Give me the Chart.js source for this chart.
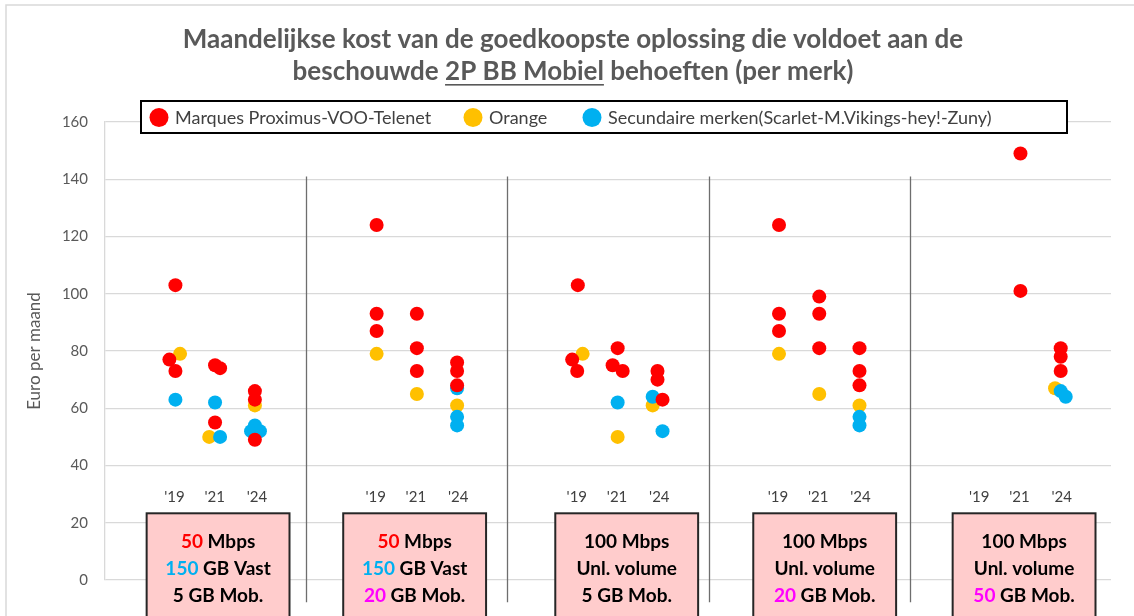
<!DOCTYPE html>
<html>
<head>
<meta charset="utf-8">
<script src="https://cdn.jsdelivr.net/npm/chart.js@4.4.1/dist/chart.umd.min.js"></script>
<style>
  body{margin:0;background:#fff;}
  canvas{display:block;}
</style>
</head>
<body>
<canvas id="myChart" width="1134" height="616"></canvas>
<script>
const ctx=document.getElementById("myChart");

// data (x: group index + year offset, y: euro per month)
let titleLines=["Maandelijkse kost van de goedkoopste oplossing die voldoet aan de","beschouwde ","2P BB Mobiel"," behoeften (per merk)"];
let seriesNames=["Marques Proximus-VOO-Telenet","Orange","Secundaire merken(Scarlet-M.Vikings-hey!-Zuny)"];
let yearLabels=["'19","'21","'24"];
let yearOffsets=[0.345,0.545,0.755];
let yTitle="Euro per maand";

let proximusX=[0.35,0.32,0.35,0.547,0.572,0.547,0.745,0.745,0.745,
               1.35,1.35,1.35,1.55,1.55,1.55,1.75,1.75,1.75,
               2.35,2.322,2.347,2.548,2.523,2.573,2.746,2.746,2.771,
               3.35,3.35,3.35,3.55,3.55,3.55,3.75,3.75,3.75,
               4.55,4.55,4.75,4.75,4.75];
let proximusY=[103,77,73,75,74,55,66,63,49,
               124,93,87,93,81,73,76,73,68,
               103,77,73,81,75,73,73,70,63,
               124,93,87,99,93,81,81,73,68,
               149,101,81,78,73];

let orangeX=[0.373,0.518,0.745, 1.35,1.55,1.75, 2.374,2.548,2.722, 3.35,3.55,3.75, 4.722];
let orangeY=[79,50,61, 79,65,61, 79,50,61, 79,65,61, 67];

let secundX=[0.35,0.547,0.572,0.745,0.726,0.77, 1.75,1.75,1.75, 2.548,2.722,2.771, 3.75,3.75, 4.75,4.775];
let secundY=[63,62,50,54,52,52, 67,57,54, 62,64,52, 57,54, 66,64];

let boxText=[
  ["{speed:50} Mbps","{vast:150} GB Vast","5 GB Mob."],
  ["{speed:50} Mbps","{vast:150} GB Vast","{mob:20} GB Mob."],
  ["100 Mbps","Unl. volume","5 GB Mob."],
  ["100 Mbps","Unl. volume","{mob:20} GB Mob."],
  ["100 Mbps","Unl. volume","{mob:50} GB Mob."]
];

const fontFam="Lato, 'Open Sans', sans-serif";
const colors=["#ff0000","#ffc000","#00b0f0"];
const hiColors={speed:"#ff0000",vast:"#00b0f0",mob:"#ff00ff"};
const boxCenters=[0.562,1.539,2.593,3.577,4.568];

function toPoints(xs,ys){
  return xs.map((x,i)=>({x:x,y:ys[i]}));
}

function drawRich(c,str,cx,cy){
  let parts=str.split(/(\{\w+:[^}]+\})/).filter(s=>s!="");
  let segs=parts.map(p=>{
    let m=p.match(/^\{(\w+):([^}]+)\}$/);
    return m?{t:m[2],col:hiColors[m[1]]}:{t:p,col:"#000"};
  });
  let total=segs.reduce((s,g)=>s+c.measureText(g.t).width,0);
  let x=cx-total/2;
  segs.forEach(g=>{
    c.fillStyle=g.col;
    c.fillText(g.t,x,cy);
    x+=c.measureText(g.t).width;
  });
}

const decor={
  id:"decor",
  beforeDraw(chart){
    const c=chart.ctx;
    c.save();
    c.fillStyle="#fff";
    c.fillRect(0,0,chart.width,chart.height);
    c.strokeStyle="#d9d9d9";
    c.lineWidth=1.5;
    c.strokeRect(6,5,chart.width+10,chart.height+10);
    c.restore();
  },
  beforeDatasetsDraw(chart){
    const c=chart.ctx, xs=chart.scales.x, ys=chart.scales.y;
    c.save();
    c.strokeStyle="#6e6e6e";
    c.lineWidth=1.3;
    [1,2,3,4].forEach(v=>{
      let px=Math.round(xs.getPixelForValue(v))+0.5;
      c.beginPath();
      c.moveTo(px,ys.getPixelForValue(141));
      c.lineTo(px,ys.getPixelForValue(-7.8));
      c.stroke();
    });
    c.restore();
  },
  afterDatasetsDraw(chart){
    const c=chart.ctx, xs=chart.scales.x, ys=chart.scales.y;
    c.save();
    // year labels
    c.font="15px "+fontFam;
    c.fillStyle="#404040";
    c.textAlign="center";
    c.textBaseline="middle";
    for(let g=0;g<5;g++){
      yearOffsets.forEach((o,i)=>{
        c.fillText(yearLabels[i],xs.getPixelForValue(g+o),ys.getPixelForValue(29));
      });
    }
    // boxes
    boxCenters.forEach((bc,g)=>{
      let l=xs.getPixelForValue(bc-0.355), r=xs.getPixelForValue(bc+0.355);
      let t=ys.getPixelForValue(23.3);
      c.fillStyle="#ffcccc";
      c.fillRect(l,t,r-l,chart.height-t+20);
      c.strokeStyle="#262626";
      c.lineWidth=2;
      c.strokeRect(l,t,r-l,chart.height-t+20);
      c.font="bold 19px "+fontFam;
      c.textAlign="left";
      boxText[g].forEach((line,k)=>{
        drawRich(c,line,(l+r)/2,t+29+k*26.8);
      });
    });
    // legend
    c.fillStyle="#fff";
    c.fillRect(141,101,926,32);
    c.strokeStyle="#000";
    c.lineWidth=2;
    c.strokeRect(141,101,926,32);
    const lx=[159,473,592];
    c.font="18px "+fontFam;
    c.textAlign="left";
    chart.data.datasets.forEach((ds,i)=>{
      c.fillStyle=ds.backgroundColor;
      c.beginPath();
      c.arc(lx[i],117.5,9.5,0,Math.PI*2);
      c.fill();
      c.fillStyle="#404040";
      c.fillText(ds.label,lx[i]+16,118);
    });
    // title
    c.fillStyle="#595959";
    c.font="bold 26px "+fontFam;
    c.textAlign="center";
    c.fillText(titleLines[0],573,40);
    c.textAlign="left";
    let segs=titleLines.slice(1);
    let total=segs.reduce((s,t)=>s+c.measureText(t).width,0);
    let x=573-total/2;
    segs.forEach((t,i)=>{
      let w=c.measureText(t).width;
      c.fillText(t,x,72);
      if(i==1){
        c.fillRect(x,84,w,1.6);
      }
      x+=w;
    });
    c.restore();
  }
};

const myChart=new Chart(ctx,{
  type:"scatter",
  data:{
    datasets:[
      {label:seriesNames[0],data:toPoints(proximusX,proximusY),backgroundColor:colors[0],order:0},
      {label:seriesNames[1],data:toPoints(orangeX,orangeY),backgroundColor:colors[1],order:2},
      {label:seriesNames[2],data:toPoints(secundX,secundY),backgroundColor:colors[2],order:1}
    ]
  },
  options:{
    responsive:false,
    animation:false,
    elements:{point:{radius:7,hoverRadius:7,borderWidth:0}},
    layout:{padding:{left:20,top:122,right:23,bottom:36}},
    plugins:{legend:{display:false},tooltip:{enabled:false}},
    scales:{
      x:{type:"linear",min:0,max:5,display:false},
      y:{
        min:0,max:160,
        ticks:{stepSize:20,color:"#595959",padding:17,font:{size:15,family:fontFam}},
        grid:{color:"#d9d9d9",drawTicks:false,lineWidth:1.3},
        border:{color:"#d9d9d9",width:1.3},
        title:{display:true,text:yTitle,color:"#595959",font:{size:17,family:fontFam}},
        afterFit:s=>{s.width=85;}
      }
    }
  },
  plugins:[decor]
});
</script>
</body>
</html>
